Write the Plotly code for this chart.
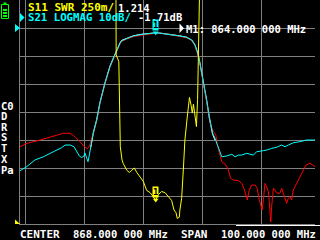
import plotly.graph_objects as go

# ---------------- data ----------------
# S21 LOGMAG (cyan), dB
freq_s21 = [818.0, 820.3, 823.1, 825.9, 829.3, 832.1, 833.3, 835.0, 836.3, 837.4, 838.1, 838.9,
            839.7, 840.0, 840.4, 841.05, 841.5, 842.0, 842.85, 844.0, 845.1, 846.8, 848.5, 849.9,
            851.0, 851.9, 852.5, 854.2, 856.4, 858.7, 860.9, 863.2, 864.0, 865.5, 867.7, 870.0,
            872.2, 874.5, 876.2, 877.3, 878.1, 878.8, 879.25, 879.9, 880.7, 881.3, 882.2, 882.75,
            883.3, 884.1, 884.9, 885.8, 886.4, 888.1, 889.8, 890.9, 892.0, 893.15, 894.85, 897.1,
            898.2, 900.5, 901.6, 903.3, 905.0, 906.7, 907.8, 908.95, 910.6, 912.9, 915.2, 918.0]
s21_db = [-51.0, -49.5, -47.1, -46.0, -44.2, -42.75, -41.8, -41.8, -42.4, -44.2, -45.7, -46.3,
          -45.7, -44.6, -46.0, -47.75, -45.4, -42.4, -37.5, -32.9, -26.8, -19.75, -13.8, -10.25,
          -7.25, -5.46, -4.54, -3.68, -2.86, -2.39, -2.14, -1.9, -1.71, -1.9, -2.14, -2.39,
          -2.86, -3.32, -4.29, -6.07, -8.46, -11.4, -13.8, -17.4, -22.1, -25.7, -31.7, -35.25,
          -37.6, -39.4, -41.8, -44.75, -46.0, -45.7, -45.1, -46.0, -45.4, -45.4, -44.75, -45.4,
          -44.2, -43.8, -43.6, -43.0, -42.6, -41.8, -42.4, -41.8, -41.0, -40.6, -40.0, -40.0]

# stored trace (red), dB
freq_mem = [818.0, 820.3, 824.8, 828.2, 832.7, 835.0, 836.6, 838.3, 840.0, 840.8, 841.5, 842.3,
            842.85, 844.0, 845.1, 846.8, 848.5, 849.9, 851.0, 851.9, 852.5, 854.2, 856.4, 858.7,
            860.9, 863.2, 865.5, 867.7, 870.0, 872.2, 874.5, 876.2, 877.3, 878.1, 878.8, 879.25,
            879.9, 880.7, 881.3, 882.2, 882.75, 883.5, 884.4, 884.9, 885.8, 886.4, 887.8, 888.6,
            889.4, 890.3, 892.0, 893.15, 893.9, 894.6, 895.05, 895.7, 896.5, 897.7, 898.4, 899.1,
            899.7, 900.1, 900.5, 901.05, 901.6, 902.2, 902.5, 903.0, 903.3, 903.9, 904.4, 905.2,
            906.1, 906.7, 907.25, 907.8, 908.4, 908.95, 909.5, 910.1, 910.6, 911.8, 912.9, 914.0,
            914.95, 916.3, 917.4, 918.0]
mem_db = [-42.4, -41.2, -40.0, -39.0, -37.6, -37.6, -38.8, -40.6, -42.6, -43.0, -42.4, -39.3,
          -37.8, -33.2, -27.0, -20.0, -14.0, -10.5, -7.5, -5.7, -4.8, -3.9, -3.1, -2.6,
          -2.3, -2.0, -1.9, -2.2, -2.5, -3.0, -3.5, -4.5, -6.3, -8.8, -11.8, -14.2,
          -17.8, -22.5, -26.0, -32.0, -35.0, -37.0, -38.2, -41.8, -46.0, -47.75, -48.9, -50.7,
          -53.7, -54.3, -54.5, -55.5, -57.25, -60.25, -61.4, -57.9, -56.1, -56.1, -57.25, -61.4,
          -63.8, -65.0, -61.4, -55.5, -56.7, -58.5, -62.0, -69.3, -63.8, -57.25, -57.9, -59.0,
          -59.0, -57.25, -59.0, -60.8, -62.6, -60.8, -60.25, -61.4, -57.9, -55.5, -53.1, -50.7,
          -48.9, -48.3, -48.9, -49.5]

# white trace (passband part), dB
freq_w = [842.0, 842.85, 844.0, 845.1, 846.8, 848.5, 849.9, 851.0, 851.9, 852.5, 854.2, 856.4,
          858.7, 860.9, 863.2, 865.5, 867.7, 870.0, 872.2, 874.5, 876.2, 877.3, 878.1, 878.8,
          879.25, 879.9, 880.7, 881.3, 882.2, 882.75, 883.3, 884.1]
white_db = [-42.6, -37.4, -32.7, -26.6, -19.6, -13.6, -10.1, -7.1, -5.3, -4.4, -3.6, -2.8,
            -2.3, -2.0, -1.8, -1.8, -2.1, -2.35, -2.8, -3.3, -4.3, -6.0, -8.4, -11.5,
            -14.0, -17.6, -22.4, -26.2, -32.4, -35.6, -38.0, -40.0]

# S11 SWR (yellow)
freq_swr = [818.0, 830.0, 840.0, 850.4, 850.6, 851.5, 852.0, 852.6, 853.0, 854.2, 855.05, 855.9,
            856.75, 857.6, 858.7, 859.8, 860.95, 862.1, 863.0, 864.0, 864.8, 866.0, 867.15, 868.3,
            869.4, 870.2, 870.9, 871.3, 872.0, 872.2, 872.8, 873.4, 873.9, 874.7, 875.05, 875.45,
            876.0, 876.4, 876.8, 877.3, 877.8, 878.2, 878.5, 878.8, 879.2, 879.5, 890.0, 905.0, 918.0]
s11_swr = [5.0, 5.0, 5.0, 4.0, 2.51, 2.45, 1.69, 1.57, 1.54, 1.48, 1.46, 1.48,
           1.50, 1.46, 1.42, 1.38, 1.30, 1.28, 1.25, 1.214, 1.26, 1.29, 1.28, 1.24,
           1.21, 1.125, 1.10, 1.05, 1.06, 1.125, 1.23, 1.50, 1.75, 1.955, 2.06, 2.13,
           2.06, 1.99, 2.07, 1.95, 1.87, 2.11, 2.375, 2.55, 2.82, 4.0, 5.0, 5.0, 5.0]

marker_freq = 864.0
marker_s21 = -1.71
marker_swr = 1.214

grid_freqs = [820, 840, 860, 880, 900]
grid_db = [-70, -60, -50, -40, -30, -20, -10, 0, 10]

# ---------------- figure ----------------
W, H = 320, 240
GRID = "#808080"
FONT = "DejaVu Sans Mono"


def px(x, y):
    return x / W, 1 - y / H


fig = go.Figure()
fig.add_trace(go.Scatter(x=freq_swr, y=s11_swr, mode="lines", yaxis="y2",
                         line=dict(color="#ffff00", width=1)))
fig.add_trace(go.Scatter(x=freq_w, y=white_db, mode="lines",
                         line=dict(color="#ffffff", width=1)))
fig.add_trace(go.Scatter(x=freq_mem, y=mem_db, mode="lines",
                         line=dict(color="#ff0000", width=1)))
fig.add_trace(go.Scatter(x=freq_s21, y=s21_db, mode="lines",
                         line=dict(color="#00ffff", width=1)))

# marker pointers
fig.add_trace(go.Scatter(x=[marker_freq], y=[marker_s21], mode="markers",
                         marker=dict(symbol="triangle-down", size=5, color="#00ffff")))
fig.add_trace(go.Scatter(x=[marker_freq], y=[marker_swr], mode="markers", yaxis="y2",
                         marker=dict(symbol="triangle-down", size=5, color="#ffff00")))

x0d, x1d = 20 / W, 315 / W
y0d = 16 / H

fig.update_layout(
    width=W, height=H, margin=dict(l=0, r=0, t=0, b=0),
    paper_bgcolor="black", plot_bgcolor="black", showlegend=False,
    xaxis=dict(domain=[x0d, x1d], range=[818, 918], tickvals=grid_freqs,
               showgrid=True, gridcolor=GRID, gridwidth=1, showticklabels=False,
               ticks="", zeroline=False, showline=True, linecolor=GRID, linewidth=1),
    yaxis=dict(domain=[y0d, 1], range=[-70, 10], tickvals=grid_db,
               showgrid=True, gridcolor=GRID, gridwidth=1, showticklabels=False,
               ticks="", zeroline=False, showline=True, linecolor=GRID, linewidth=1),
    yaxis2=dict(domain=[y0d, 1], range=[1, 3], overlaying="y", showgrid=False,
                showticklabels=False, ticks="", zeroline=False, showline=False),
)

ann = []


def text(x, y, s, color="white", size=11, anchor="left"):
    xp, yp = px(x, y)
    ann.append(dict(x=xp, y=yp, xref="paper", yref="paper", text=s, showarrow=False,
                    xanchor=anchor, yanchor="middle",
                    font=dict(family=FONT, size=size, color=color, weight="bold")))


text(26, 7.5, "S11 SWR 250m/", "#ffff00")
text(116, 7.5, "1.214", size=10.5)
text(26, 17.5, "S21 LOGMAG 10dB/", "#00ffff", size=10.7)
text(136, 17.5, "-1.71dB", size=10.5)
text(184, 28.5, "M1: 864.000 000 MHz", size=10.5)

for lab, yy in [("C0", 105.7), ("D", 116.3), ("R", 127), ("S", 137.3),
                ("T", 148.3), ("X", 158.7), ("Pa", 169.5)]:
    text(-1, yy, lab, size=10.5)

text(18, 234, "CENTER")
text(71, 234, "868.000 000 MHz", size=10.5)
text(179, 234, "SPAN")
text(219, 234, "100.000 000 MHz", size=10.5)

# marker number boxes
ann.append(dict(x=marker_freq, y=marker_s21, xref="x", yref="y", text="1", showarrow=False,
                yanchor="bottom", yshift=2, bgcolor="#00ffff", borderpad=0,
                font=dict(family=FONT, size=9, color="black", weight="bold")))
ann.append(dict(x=marker_freq, y=marker_swr, xref="x", yref="y2", text="1", showarrow=False,
                yanchor="bottom", yshift=2, bgcolor="#ffff00", borderpad=0,
                font=dict(family=FONT, size=9, color="black", weight="bold")))
fig.update_layout(annotations=ann)

shapes = []


def poly(points, color):
    pts = [px(x, y) for x, y in points]
    path = "M " + " L ".join(f"{a} {b}" for a, b in pts) + " Z"
    shapes.append(dict(type="path", xref="paper", yref="paper", path=path,
                       fillcolor=color, line=dict(width=0)))


def rect(xl, yt, xr, yb, color, fill=True):
    a = px(xl, yt)
    b = px(xr, yb)
    d = dict(type="rect", xref="paper", yref="paper", x0=a[0], y0=b[1], x1=b[0], y1=a[1],
             line=dict(color=color, width=1 if not fill else 0))
    if fill:
        d["fillcolor"] = color
    shapes.append(d)


poly([(20, 13), (24.5, 17.5), (20, 22)], "#00ffff")          # active trace indicator
poly([(179.5, 23.5), (184, 28.2), (179.5, 33)], "white")     # marker indicator
poly([(15, 24), (20, 28), (15, 32)], "#00ffff")              # S21 reference position
poly([(15, 219.5), (20, 224), (15, 224)], "#ffff00")         # S11 reference position

# battery icon
rect(1.5, 4.5, 8.5, 18.5, "#00ff00", fill=False)
rect(3.5, 2.5, 6.5, 4.5, "#00ff00")
rect(3, 9, 7, 11, "#00ff00")
rect(3, 12, 7, 14, "#00ff00")
rect(3, 15, 7, 17, "#00ff00")

# white line under the grid at the lower right
a = px(236, 225.5)
b = px(320, 225.5)
shapes.append(dict(type="line", xref="paper", yref="paper", x0=a[0], y0=a[1], x1=b[0], y1=b[1],
                   line=dict(color="white", width=1)))

fig.update_layout(shapes=shapes)
fig.write_html("out.html")
